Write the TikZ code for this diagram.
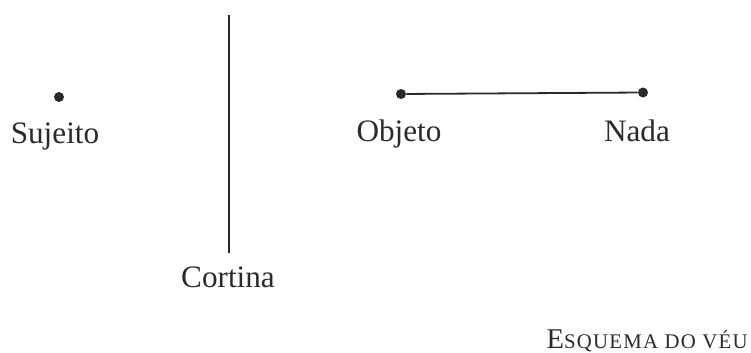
\documentclass[tikz,border=0pt]{standalone}
\usepackage{fontspec}
\setmainfont{Liberation Serif}
\definecolor{ink}{HTML}{2A2A2A}
\begin{document}
\begin{tikzpicture}[x=0.5pt,y=-0.5pt,
  dot/.style={circle,fill=ink,inner sep=0pt,minimum size=5pt},
  lbl/.style={anchor=base,inner sep=0pt,text=ink,font=\fontsize{15.6pt}{18pt}\selectfont},
  link/.style={draw=ink,line width=0.9pt}]
  \useasboundingbox (0,0) rectangle (751,353);

  % subject
  \node[dot] (sujeito) at (59,97) {};
  \node[lbl] (sujeitoL) at (55,144) {Sujeito};

  % the curtain
  \coordinate (cortinaTop) at (229,15);
  \coordinate (cortinaBot) at (229,253);
  \draw[link,line width=1.1pt] (cortinaTop) -- (cortinaBot);
  \node[lbl] (cortinaL) at (228,287) {Cortina};

  % object and nothing
  \node[dot] (objeto) at (401,94) {};
  \node[dot] (nada) at (643,92.5) {};
  \draw[link] (objeto) -- (nada);
  \node[lbl] (objetoL) at (399,142) {Objeto};
  \node[lbl] (nadaL) at (637,142) {Nada};

  % caption in small capitals
  \node[anchor=base east,inner sep=0pt,text=ink] (caption) at (748,349)
    {\fontsize{14.3pt}{16pt}\selectfont E\fontsize{10.4pt}{12pt}\selectfont\addfontfeature{LetterSpace=6}SQUEMA DO VÉU};
\end{tikzpicture}
\end{document}
